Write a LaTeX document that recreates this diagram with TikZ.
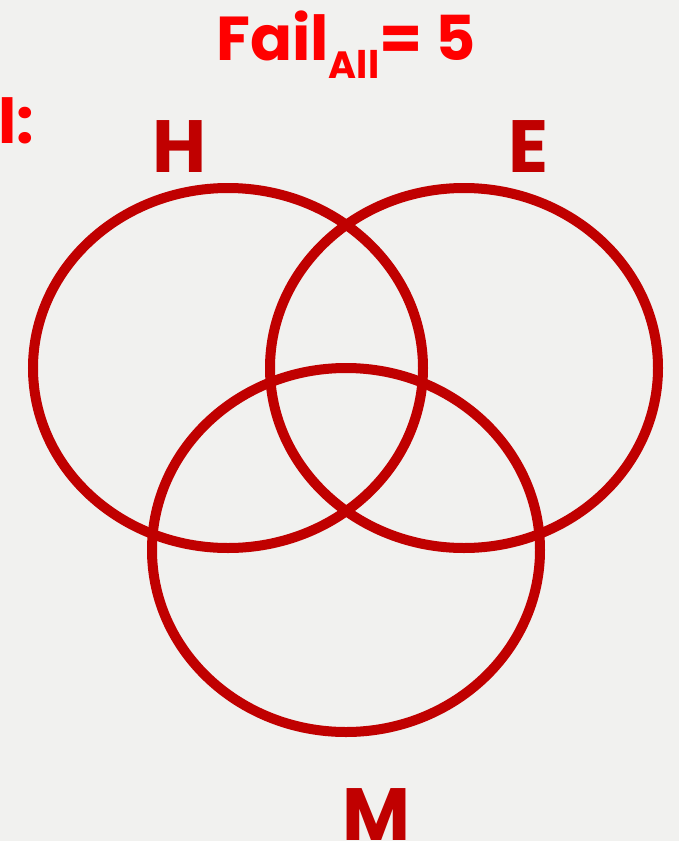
\documentclass[tikz,border=0pt]{standalone}
\usepackage{fontspec}
\setmainfont{Poppins}
\usetikzlibrary{positioning}
\definecolor{bg}{HTML}{F1F1EF}
\definecolor{setred}{HTML}{C00000}
\definecolor{hot}{HTML}{FF0000}

\begin{document}
\begin{tikzpicture}[
  x=1pt, y=-1pt,
  setline/.style={draw=setred, line width=10pt},
  setlabel/.style={text=setred, font=\fontsize{74}{74}\selectfont\bfseries, anchor=base west, inner sep=0pt},
  titletext/.style={text=hot, font=\fontsize{62}{62}\selectfont\bfseries, anchor=base west, inner sep=0pt},
]
% page and background
\fill[bg] (0,0) rectangle (679,841);
\useasboundingbox (0,0) rectangle (679,841);
% heading and the cut-off label at the left
\node[titletext] (title) at (216,60) {Fail\raisebox{-0.3em}{\fontsize{38}{38}\selectfont All}= 5};
\node[titletext] (cut) at (-2,143) {l:};
% the three sets
\draw[setline] (228,368) ellipse [x radius=195, y radius=180];
\draw[setline] (464,368) ellipse [x radius=194, y radius=180];
\draw[setline] (346,550) ellipse [x radius=194, y radius=182];
% set names
\node[setlabel] (nameH) at (152,172) {H};
\node[setlabel] (nameE) at (508,172) {E};
\node[setlabel] (nameM) at (342,840) {M};
\end{tikzpicture}
\end{document}
